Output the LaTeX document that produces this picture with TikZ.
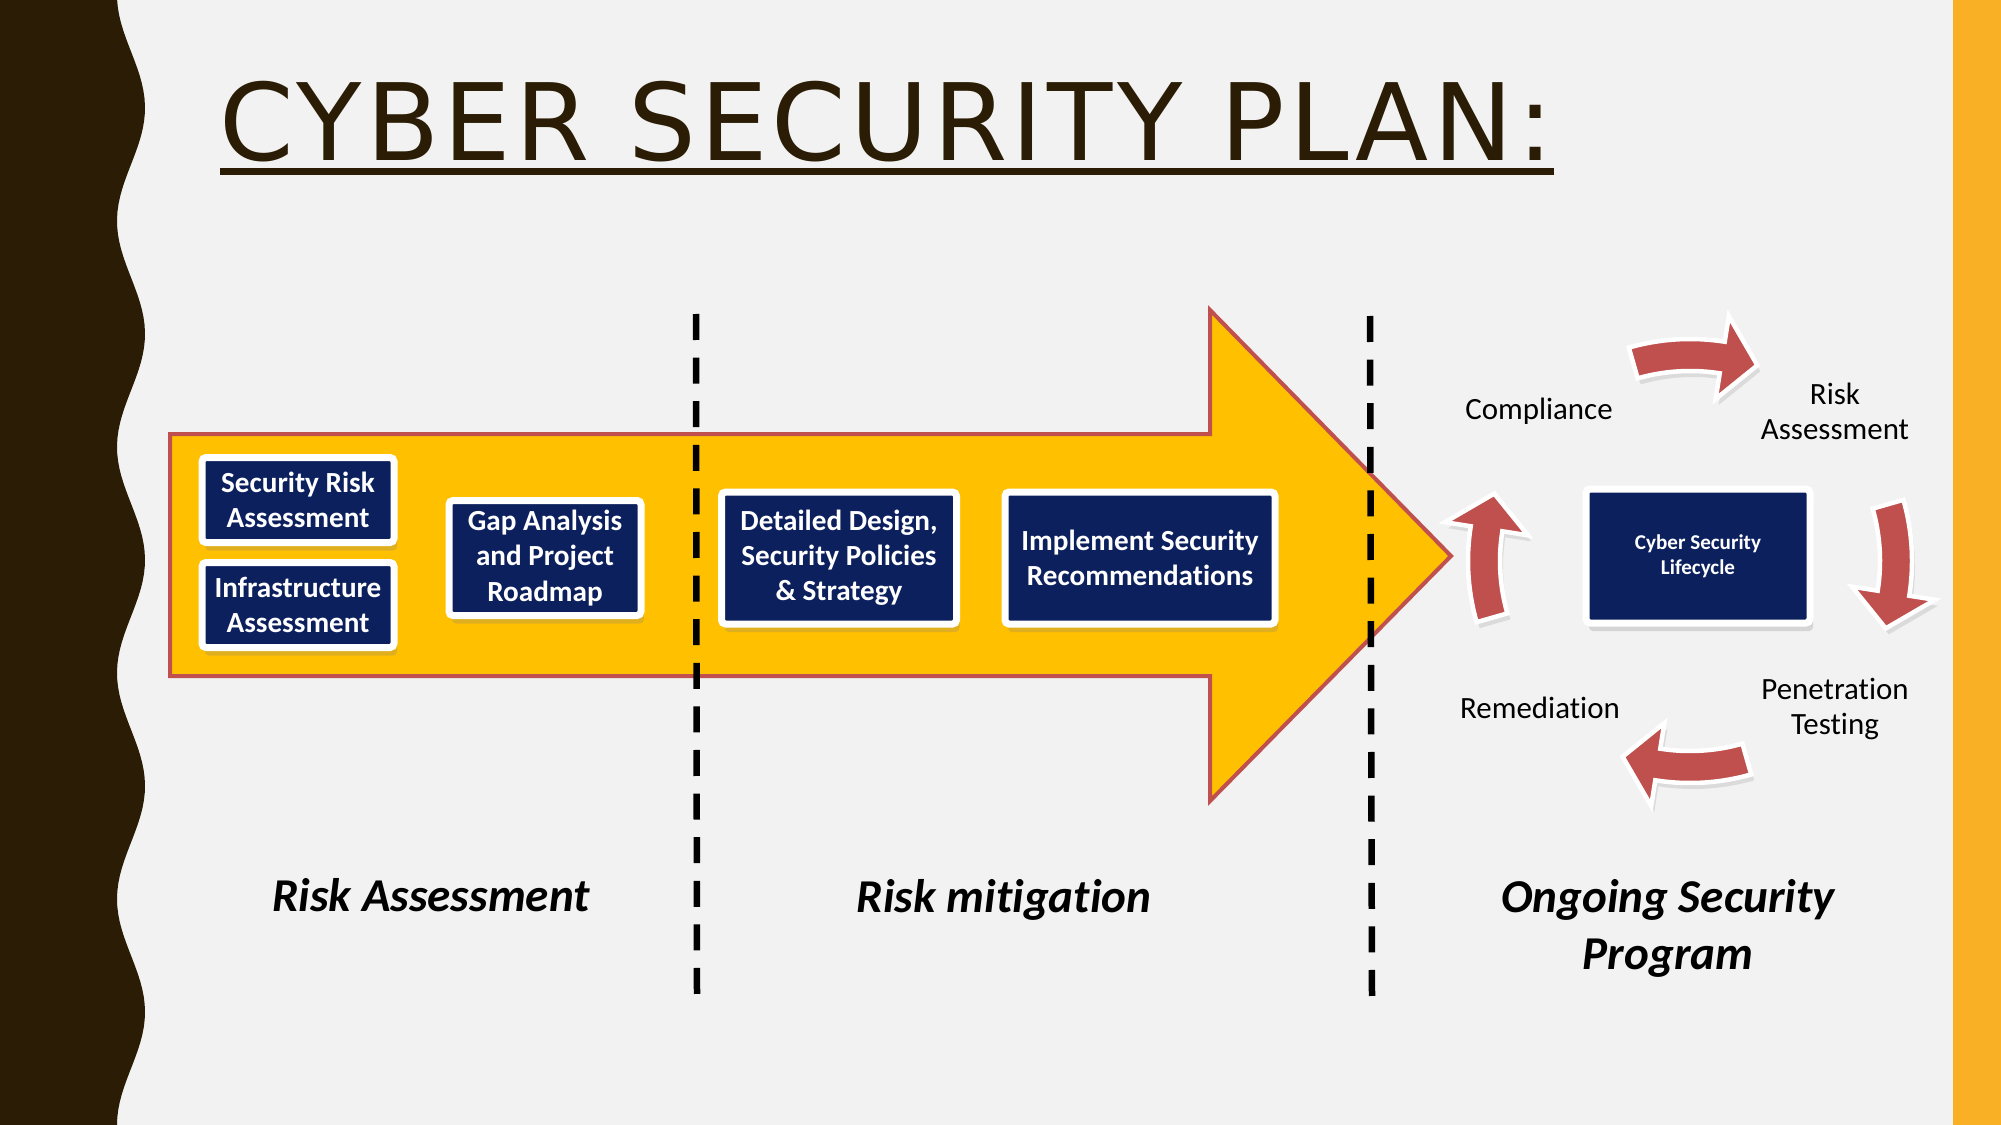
\documentclass[tikz,border=0pt]{standalone}
\usepackage{fontspec}
\setmainfont{Carlito}[Ligatures=NoCommon]
\newfontfamily\titlefont{DejaVu Sans}[LetterSpace=4]
\usetikzlibrary{positioning,calc,shadows}

\definecolor{slidebg}{RGB}{242,242,242}
\definecolor{bandbrown}{RGB}{43,29,5}
\definecolor{bandgold}{RGB}{249,176,36}
\definecolor{arrowgold}{RGB}{255,192,0}
\definecolor{arrowred}{RGB}{192,80,77}
\definecolor{boxnavy}{RGB}{12,32,94}

\tikzset{
  bluebox/.style={draw=white, line width=0.7mm, fill=boxnavy, rounded corners=0.4mm,
    text=white, align=center, inner sep=0pt,
    font=\bfseries\fontsize{8.3}{10}\selectfont,
    drop shadow={shadow xshift=0.3mm, shadow yshift=-0.8mm, opacity=0.25}},
  bigarrow/.style={fill=arrowgold, draw=arrowred, line width=0.4mm, line join=miter},
  divider/.style={black, line width=0.65mm, dash pattern=on 2.6mm off 1.76mm},
  cyclearrow/.style={fill=arrowred, draw=white, line width=0.45mm,
    drop shadow={shadow xshift=0.3mm, shadow yshift=-0.6mm, opacity=0.2}},
  steplabel/.style={align=center, font=\fontsize{8.8}{10}\selectfont},
  phaselabel/.style={align=center, font=\bfseries\itshape\fontsize{13.4}{16.2}\selectfont}
}

\begin{document}
\begin{tikzpicture}[x=0.1mm, y=-0.1mm]
  \fill[slidebg] (0,0) rectangle (2001,1125);
  \useasboundingbox (0,0) rectangle (2001,1125);
  \fill[bandbrown] (0,0) -- plot[domain=0:1125, samples=150, variable=\t] ({131+14*cos((\t-108)*1.5929)}, \t) -- (0,1125) -- cycle;
  \fill[bandgold] (1953,0) rectangle (2001,1125);

  \node[anchor=base west, inner sep=0pt, text=bandbrown, font=\titlefont\fontsize{30.4}{36}\selectfont] (title) at (219,161) {CYBER SECURITY PLAN:};
  \fill[bandbrown] (220,168) rectangle (1554,175);

  \draw[bigarrow] (170,434) -- (1210,434) -- (1210,310) -- (1451,556) -- (1210,801) -- (1210,676) -- (170,676) -- cycle;
  \draw[divider] (696,314) -- (697,994);
  \draw[divider] (1370,316) -- (1372,996);

  \node[bluebox, minimum width=19.2mm, minimum height=8.5mm] (sra) at (298,500) {Security Risk\\Assessment};
  \node[bluebox, minimum width=19.2mm, minimum height=8.5mm] (infra) at (298,605) {Infrastructure\\Assessment};
  \node[bluebox, minimum width=19.2mm, minimum height=11.5mm] (gap) at (545,558) {Gap Analysis\\and Project\\Roadmap};
  \node[bluebox, minimum width=23.5mm, minimum height=13.2mm] (design) at (839,558) {Detailed Design,\\Security Policies\\\& Strategy};
  \node[bluebox, minimum width=27mm, minimum height=13.2mm] (impl) at (1140,558) {Implement Security\\Recommendations};

  \node[bluebox, minimum width=22.4mm, minimum height=13.4mm, font=\bfseries\fontsize{6}{7.1}\selectfont] (life) at (1698,556) {Cyber Security\\Lifecycle};
  \coordinate (ring) at (1690,561);
  \foreach \a in {-106,-16,74,164} {
    \draw[cyclearrow, shift={(ring)}] (\a:222) arc[start angle=\a, end angle=\a+25, radius=222] -- (\a+25:248) -- (\a+35:207) -- (\a+25:164) -- (\a+25:190) arc[start angle=\a+25, end angle=\a, radius=190] -- cycle;
  }
  \node[steplabel] (comp) at (1539,411) {Compliance};
  \node[steplabel] (risk) at (1835,411) {Risk\\Assessment};
  \node[steplabel] (pen) at (1835,709) {Penetration\\Testing};
  \node[steplabel] (rem) at (1540,708) {Remediation};

  \node[phaselabel] (assess) at (431,895) {Risk Assessment};
  \node[phaselabel] (mitig) at (1004,900) {Risk mitigation};
  \node[phaselabel] (ongoing) at (1668,928) {Ongoing Security\\Program};
\end{tikzpicture}
\end{document}
